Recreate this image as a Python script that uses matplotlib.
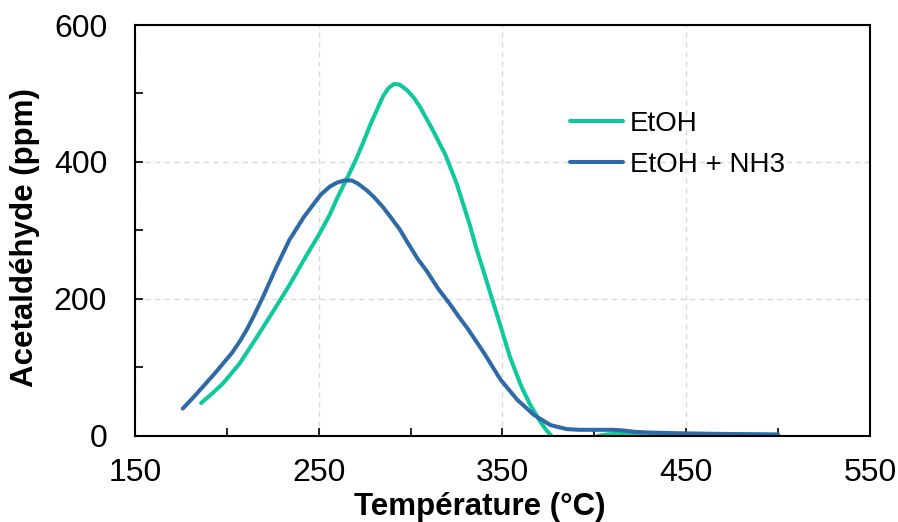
import matplotlib
matplotlib.use("Agg")
import matplotlib.pyplot as plt
from matplotlib.ticker import FixedLocator

plt.rcParams['font.family'] = ['Liberation Sans', 'DejaVu Sans']

# Data
etoh_x = [186, 192, 198, 207, 216, 225, 234, 243, 251, 256, 260, 265, 270, 274, 278, 282, 285, 288, 291, 294, 298, 302, 305, 312, 319, 325, 332, 336, 340, 344, 349, 354, 360, 365, 370, 374, 378, 384, 392, 398, 402, 406, 410, 420, 440, 470, 500]
etoh_y = [48, 62, 77, 106, 143, 181, 220, 262, 298, 323, 347, 374, 402, 427, 454, 478, 496, 508, 514, 513, 505, 493, 481, 447, 410, 369, 310, 272, 238, 203, 160, 116, 74, 46, 23, 8, -4, -10, -10, -5, 0, 2, 3, 3.5, 3, 2.5, 2]

nh3_x = [176, 182, 187, 193, 198, 203, 207, 211, 215, 220, 227, 234, 242, 251, 256, 260, 264, 268, 271, 276, 280, 285, 289, 294, 298, 304, 309, 315, 321, 326, 331, 340, 349, 358, 367, 376, 385, 392, 400, 410, 416, 422, 430, 445, 470, 500]
nh3_y = [40, 57, 72, 90, 106, 122, 138, 156, 177, 205, 247, 286, 320, 352, 364, 370, 373, 373, 369, 359, 349, 334, 320, 302, 284, 258, 240, 215, 194, 175, 157, 121, 82, 53, 31, 16, 10, 9, 9, 9, 8, 6, 5, 4, 3, 2]

labels = ['EtOH', 'EtOH + NH3']
colors = ['#0DC99B', '#2E6AA7']

x_major = [150, 250, 350, 450, 550]
x_minor = [200, 300, 400, 500]
y_major = [0, 200, 400, 600]
y_minor = [100, 300, 500]

fig = plt.figure(figsize=(8.98, 5.22), dpi=100)
ax = fig.add_axes([0.1503, 0.1648, 0.9688 - 0.1503, 0.9521 - 0.1648])

ax.plot(etoh_x, etoh_y, color=colors[0], lw=2.9, label=labels[0],
        solid_capstyle='round', solid_joinstyle='round')
ax.plot(nh3_x, nh3_y, color=colors[1], lw=2.9, label=labels[1],
        solid_capstyle='round', solid_joinstyle='round')

ax.set_xlim(150, 550)
ax.set_ylim(0, 600)
ax.xaxis.set_major_locator(FixedLocator(x_major))
ax.xaxis.set_minor_locator(FixedLocator(x_minor))
ax.yaxis.set_major_locator(FixedLocator(y_major))
ax.yaxis.set_minor_locator(FixedLocator(y_minor))

ax.grid(True, which='major', color='#d9d9d9', linestyle=(0, (4, 3)), lw=1.0)
ax.set_axisbelow(True)

ax.tick_params(axis='both', which='both', direction='in', labelsize=23, width=1.2, length=6)
ax.tick_params(axis='x', which='major', pad=16)
ax.tick_params(axis='y', which='major', pad=20)
ax.tick_params(top=False, right=False)

for s in ax.spines.values():
    s.set_linewidth(1.5)
    s.set_color('black')

ax.set_xlabel('Température (°C)', fontsize=22.5, fontweight='bold', va='center')
ax.xaxis.set_label_coords(0.469, -0.173)
ax.set_ylabel('Acetaldéhyde (ppm)', fontsize=22.5, fontweight='bold', va='center')
ax.yaxis.set_label_coords(-0.1497, 0.483)

ax.legend(loc='upper left', bbox_to_anchor=(0.592, 0.791), frameon=False, fontsize=20,
          handlelength=1.9, handletextpad=0.25, labelspacing=0.55, borderaxespad=0,
          borderpad=0)

fig.savefig('out.png', dpi=100)
